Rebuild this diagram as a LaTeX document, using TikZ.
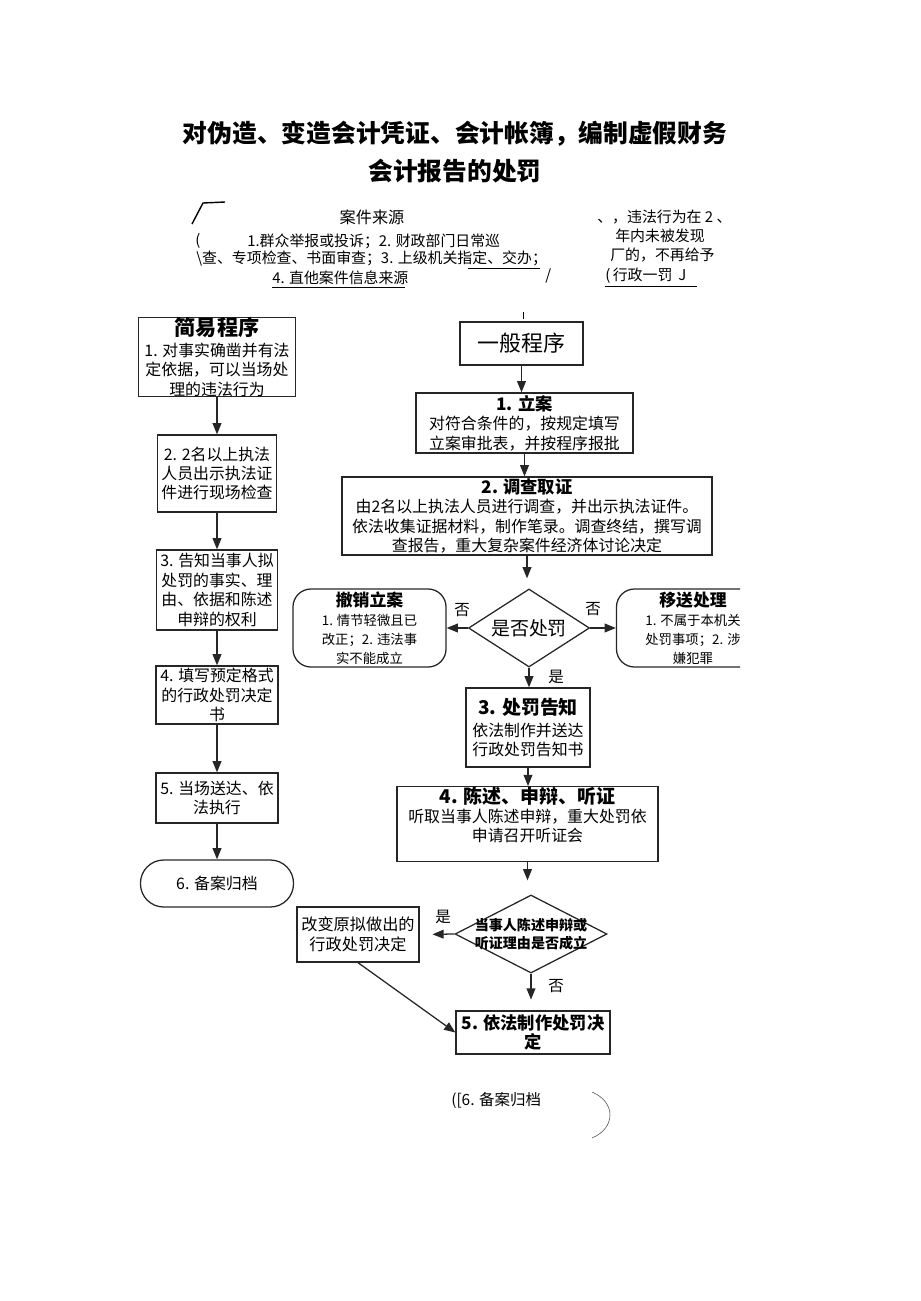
\documentclass[tikz,border=0pt]{standalone}
\usepackage{fontspec}
\setmainfont{Noto Sans CJK SC}
\usetikzlibrary{arrows.meta,shapes.geometric}

\tikzset{
	box/.style={draw=black!85,line width=0.9pt,inner sep=0pt,align=center,
		font=\fontsize{11.3}{13.8}\selectfont},
	rbox/.style={box,rounded corners=4.5mm},
	dec/.style={draw=black!85,line width=0.9pt,diamond,inner sep=0pt},
	wh/.style 2 args={minimum width=#1*0.25mm,minimum height=#2*0.25mm},
	lbl/.style={font=\fontsize{11}{13}\selectfont,inner sep=0pt},
	hd/.style={font=\fontsize{10.6}{13}\selectfont,inner sep=0pt,anchor=west},
	conn/.style={->,line width=0.9pt,draw=black!85},
}
\newcommand{\hdfont}[1]{\bfseries\fontsize{#1}{#1}\selectfont}

\begin{document}
\begin{tikzpicture}[x=0.025cm,y=-0.025cm,>={Triangle[length=2.8mm,width=2.2mm]}]
	\useasboundingbox (0,0) rectangle (920,1301);

	% title
	\node[align=center,font=\bfseries\fontsize{17.6}{27}\selectfont] (title) at (455,152)
		{对伪造、变造会计凭证、会计帐簿，编制虚假财务\\会计报告的处罚};

	% case sources
	\draw[line width=1pt] (192,224) .. controls (197,214) .. (203,203) -- (225,202);
	\node[lbl,font=\fontsize{11.5}{13}\selectfont] (src) at (372,217) {案件来源};
	\node[hd] (src0) at (195,241) {(};
	\node[hd] (src1) at (247,241) {1.群众举报或投诉；2. 财政部门日常巡};
	\node[hd] (src2) at (196,259) {\textbackslash 查、专项检查、书面审查；3. 上级机关指定、交办；};
	\node[hd] (src3) at (272,278) {4. 直他案件信息来源};
	\node[hd] (slash) at (545,276) {/};
	\draw (468,268) -- (540,268) (272,287) -- (405,287);

	\node[hd] (lim1) at (597,217) {、，违法行为在 2 、};
	\node[hd] (lim2) at (615,236) {年内未被发现};
	\node[hd] (lim3) at (610,255) {厂的，不再给予};
	\node[hd] (lim4) at (605,276) {(\,行政一罚\, J};
	\draw (605,286) -- (697,286);

%	=======================================
	% simple procedure
	\node[box,wh={157}{78}] (s1) at (217,357)
		{{\hdfont{15}简易程序}\\[1pt]1. 对事实确凿并有法\\定依据，可以当场处\\理的违法行为};
	\node[box,wh={119}{77}] (s2) at (217,473.5)
		{2. 2名以上执法\\人员出示执法证\\件进行现场检查};
	\node[box,wh={121}{80}] (s3) at (217,590)
		{3. 告知当事人拟\\处罚的事实、理\\由、依据和陈述\\申辩的权利};
	\node[box,wh={122}{58}] (s4) at (217,695)
		{4. 填写预定格式\\的行政处罚决定\\书};
	\node[box,wh={122}{50}] (s5) at (217,798)
		{5. 当场送达、依\\法执行};
	\node[box,wh={153}{47},rounded corners=5.8mm] (s6) at (217,883.5)
		{6. 备案归档};

	\draw[conn] (s1.south) -- (s2.north);
	\draw[conn] (s2.south) -- (s3.north);
	\draw[conn] (s3.south) -- (s4.north);
	\draw[conn] (s4.south) -- (s5.north);
	\draw[conn] (s5.south) -- (s6.north);

%	=======================================
	% general procedure
	\coordinate (gtick) at (523,312);
	\node[box,wh={123}{43},font=\fontsize{15.6}{18}\selectfont] (g0) at (521.5,343.5) {一般程序};
	\draw (gtick) -- ++(0,7);
	\node[box,wh={217}{60}] (g1) at (524.5,423)
		{{\hdfont{12.3}1. 立案}\\对符合条件的，按规定填写\\立案审批表，并按程序报批};
	\node[box,wh={370}{78}] (g2) at (527,516)
		{{\hdfont{12.3}2. 调查取证}\\由2名以上执法人员进行调查，并出示执法证件。\\
		依法收集证据材料，制作笔录。调查终结，撰写调\\查报告，重大复杂案件经济体讨论决定};
	\node[dec,wh={121}{78},label={[lbl,font=\fontsize{13.5}{15}\selectfont]center:是否处罚}]
		(d1) at (529,628) {};
	\node[rbox,wh={153}{78},font=\fontsize{9.5}{13.5}\selectfont] (cancel) at (369.5,628)
		{{\hdfont{12}撤销立案}\\1. 情节轻微且已\\改正；2. 违法事\\实不能成立};
	\begin{scope}
		\clip (600,580) rectangle (740,680);
		\node[rbox,wh={153}{78},font=\fontsize{9.5}{13.5}\selectfont] (transfer) at (693,628)
			{{\hdfont{12}移送处理}\\1. 不属于本机关\\处罚事项；2. 涉\\嫌犯罪};
	\end{scope}
	\node[box,wh={124}{79}] (g3) at (528,727.5)
		{{\hdfont{13.5}3. 处罚告知}\\[2pt]依法制作并送达\\行政处罚告知书};
	\node[box,wh={261}{74}] (g4) at (527.5,824)
		{{\hdfont{13.5}4. 陈述、申辩、听证}\\听取当事人陈述申辩，重大处罚依\\申请召开听证会\\\mbox{}};
	\node[dec,wh={152}{78},label={[lbl,align=center,font=\bfseries\fontsize{10}{12.8}\selectfont]
		center:当事人陈述申辩或\\听证理由是否成立}] (d2) at (531,934) {};
	\node[box,wh={122}{55},font=\fontsize{11.5}{14}\selectfont] (change) at (358,934.5)
		{改变原拟做出的\\行政处罚决定};
	\node[box,wh={154}{43},font=\bfseries\fontsize{12.3}{13.5}\selectfont] (g5) at (533,1032.5)
		{5. 依法制作处罚决\\定};

	\draw[conn] (g0.south) -- (g0.south |- g1.north);
	\draw[conn] (g1.south) -- (g1.south |- g2.north);
	\draw[conn,shorten >=2.5mm] (g2.south) -- (g2.south |- d1.north);
	\draw[conn] (d1.west) -- (cancel.east);
	\draw[conn] (d1.east) -- (transfer.west);
	\draw[conn] (d1.south) -- (d1.south |- g3.north);
	\draw[conn] (g3.south) -- (g3.south |- g4.north);
	\draw[conn,shorten >=3.5mm] (g4.south) -- (g4.south |- d2.north);
	\draw[conn,shorten >=3.2mm] (d2.west) -- (change.east);
	\draw[conn,shorten >=2.7mm] (d2.south) -- (d2.south |- g5.north);
	\draw[conn] (change.south) -- (g5.west);

	\path
		(462,610) node[lbl] (no1) {否}
		(593,609) node[lbl] (no2) {否}
		(556,677) node[lbl] (yes1) {是}
		(443,917) node[lbl] (yes2) {是}
		(556,986) node[lbl] (no3) {否};

	% archive
	\node[hd,font=\fontsize{11}{13}\selectfont] (arch) at (451,1100) {([6. 备案归档};
	\draw[black!70] (592,1092) .. controls (616,1102) and (616,1128) .. (592,1138);
\end{tikzpicture}
\end{document}
